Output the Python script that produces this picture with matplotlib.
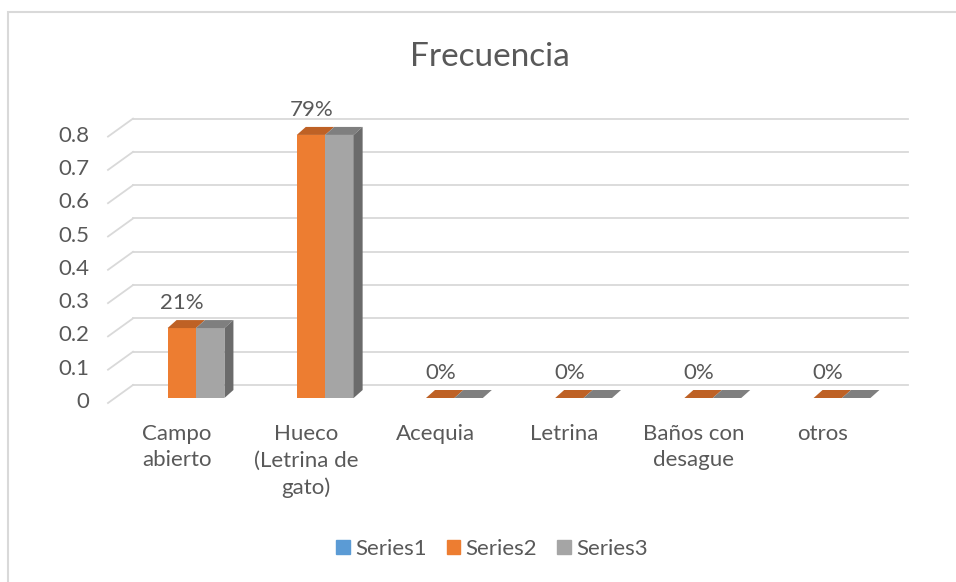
import matplotlib
matplotlib.use("Agg")
import matplotlib.pyplot as plt
from matplotlib.patches import Polygon, Rectangle

plt.rcParams['font.family'] = ['Lato', 'DejaVu Sans']

# datos
categorias = ["Campo\nabierto", "Hueco\n(Letrina de\ngato)", "Acequia", "Letrina",
              "Baños con\ndesague", "otros"]
series1 = [None, None, None, None, None, None]   # serie vacia
series2 = [0.21, 0.79, 0, 0, 0, 0]
series3 = [0.21, 0.79, 0, 0, 0, 0]
etiquetas = ["21%", "79%", "0%", "0%", "0%", "0%"]
yticks = [0, 0.1, 0.2, 0.3, 0.4, 0.5, 0.6, 0.7, 0.8]

# escala en pixeles (para el efecto 3D)
PX_X = 129.2
PX_Y = 333.0
def dx(px):
    return px / PX_X
def dy(px):
    return px / PX_Y

col_gris_txt = "#595959"
col_grid = "#D9D9D9"
colores = {"s1": "#5B9BD5", "s2": "#ED7D31", "s3": "#A5A5A5"}
top_col = {"s2": "#BE6125", "s3": "#7F7F7F"}
side_col = "#6B6B6B"
fs = 16

fig = plt.figure(figsize=(9.56, 5.82), dpi=100)
W, H = 956, 582
ax = fig.add_axes([60 / W, (H - 420) / H, 860 / W, 320 / H])
ax.set_xlim((60 - 196) / PX_X, (920 - 196) / PX_X)
ax.set_ylim((398 - 420) / PX_Y, (398 - 100) / PX_Y)
ax.axis("off")

# borde del grafico
fig.patches.append(Rectangle((8 / W, -0.1), 1.1, (H - 12) / H + 0.1, transform=fig.transFigure,
                             fill=False, edgecolor=col_grid, lw=1.5))

# lineas de cuadricula (pared del fondo + piso en diagonal)
x_back0 = dx(133 - 196)
x_back1 = dx(908 - 196)
x_front = dx(108 - 196)
for v in yticks:
    yb = v + dy(13)
    yf = v - dy(5)
    ax.plot([x_back0, x_back1], [yb, yb], color=col_grid, lw=1.3, zorder=1)
    ax.plot([x_front, x_back0], [yf, yb], color=col_grid, lw=1.3, zorder=1)
    ax.text(dx(89 - 196), v - dy(4), f"{v:g}", ha="right", va="center",
            fontsize=fs, color=col_gris_txt)

# barras
w = 0.22
ddx, ddy = dx(9), dy(8)
for i in range(len(categorias)):
    for key, vals, x0 in (("s2", series2, i - w), ("s3", series3, i)):
        v = vals[i]
        ax.bar(x0, v, width=w, align="edge", color=colores[key], zorder=3, lw=0)
        ax.add_patch(Polygon([(x0, v), (x0 + w, v), (x0 + w + ddx, v + ddy), (x0 + ddx, v + ddy)],
                             closed=True, facecolor=top_col[key], lw=0, zorder=3))
        if key == "s3" and v > 0:
            ax.add_patch(Polygon([(x0 + w, 0), (x0 + w, v), (x0 + w + ddx, v + ddy), (x0 + w + ddx, ddy)],
                                 closed=True, facecolor=side_col, lw=0, zorder=3))
    top = max(series2[i], series3[i])
    ax.text(i - dx(14), top + dy(25), etiquetas[i], ha="center", va="center",
            fontsize=fs, color=col_gris_txt, zorder=4)
    ax.text(i - dx(19), dy(398 - 424), categorias[i], ha="center", va="top",
            fontsize=fs, color=col_gris_txt, linespacing=1.4)

# titulo
fig.text(490 / W, 1 - 57 / H, "Frecuencia", ha="center", va="center",
         fontsize=24, color=col_gris_txt)

# leyenda
handles = [Rectangle((0, 0), 1, 1, color=colores[k]) for k in ("s1", "s2", "s3")]
fig.legend(handles, ["Series1", "Series2", "Series3"], loc="center",
           bbox_to_anchor=(492 / W, 1 - 549 / H), ncol=3, frameon=False,
           fontsize=fs, labelcolor=col_gris_txt, handlelength=0.6, handleheight=0.6,
           handletextpad=0.25, columnspacing=0.9)

fig.savefig("out.png", dpi=100, facecolor="white")
